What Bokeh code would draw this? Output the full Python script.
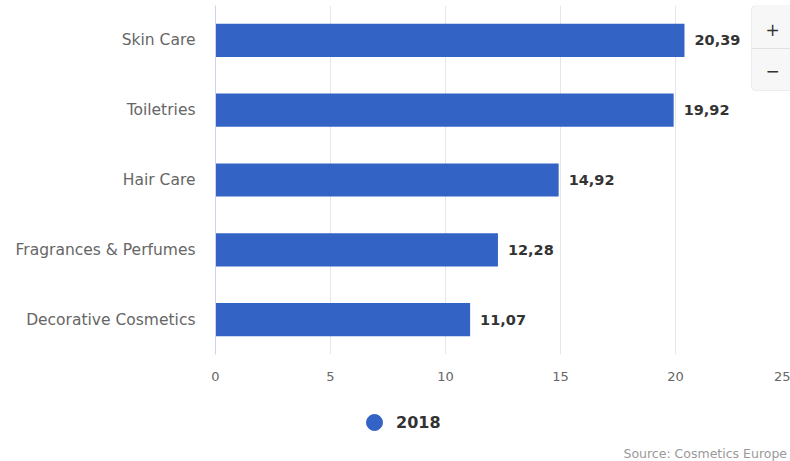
from bokeh.plotting import figure
from bokeh.layouts import column
from bokeh.models import (ColumnDataSource, FactorRange, LabelSet, Label, Legend, LegendItem,
                          FixedTicker, BoxAnnotation)
from bokeh.core.properties import value
from bokeh.embed import file_html
from bokeh.resources import INLINE

categories = ["Skin Care", "Toiletries", "Hair Care", "Fragrances & Perfumes", "Decorative Cosmetics"]
values_2018 = [20.39, 19.92, 14.92, 12.28, 11.07]
series_name = "2018"
x_ticks = [0, 5, 10, 15, 20, 25]
source_text = "Source: Cosmetics Europe"

BAR_COLOR = "#3363c5"
FONT = "DejaVu Sans"

labels = [f"{v:.2f}".replace(".", ",") for v in values_2018]
src = ColumnDataSource(dict(cat=categories, val=values_2018, lab=labels))

FRAME_LEFT = 215
FRAME_TOP = 5
FRAME_BOTTOM = 354
W = 790
H1 = 400
H2 = 61

p = figure(width=W, height=H1, output_backend="svg", toolbar_location=None,
           y_range=FactorRange(*reversed(categories), range_padding=0),
           x_range=(0, 25),
           min_border_left=FRAME_LEFT, min_border_right=0,
           min_border_top=FRAME_TOP, min_border_bottom=H1 - FRAME_BOTTOM)
p.outline_line_color = None
p.background_fill_color = "white"
p.border_fill_color = "white"

p.hbar(y="cat", right="val", left=0, height=0.475, source=src,
       fill_color=BAR_COLOR, line_color=None)

p.add_layout(LabelSet(x="val", y="cat", text="lab", source=src, x_offset=10,
                      text_baseline="middle", text_font=value(FONT), text_font_size=value("14.5px"),
                      text_font_style="bold", text_color="#333333"))

# axes
p.xaxis.ticker = FixedTicker(ticks=x_ticks)
p.xaxis.axis_line_color = None
p.xaxis.major_tick_line_color = None
p.xaxis.minor_tick_line_color = None
p.xaxis.major_tick_out = 0
p.xaxis.major_label_text_font = FONT
p.xaxis.major_label_text_font_size = "13px"
p.xaxis.major_label_text_color = "#666666"
p.xaxis.major_label_standoff = 17

p.yaxis.axis_line_color = "#ccd6eb"
p.yaxis.major_tick_line_color = None
p.yaxis.minor_tick_line_color = None
p.yaxis.major_tick_out = 0
p.yaxis.major_label_text_font = FONT
p.yaxis.major_label_text_font_size = "15.5px"
p.yaxis.major_label_text_color = "#666666"
p.yaxis.major_label_standoff = 20

p.ygrid.grid_line_color = None
p.xgrid.grid_line_color = "#e6e6e6"
p.xgrid.ticker = FixedTicker(ticks=[t for t in x_ticks if 0 < t < 25])

# zoom buttons
p.add_layout(BoxAnnotation(left=751 - FRAME_LEFT, right=800 - FRAME_LEFT,
                           top=FRAME_BOTTOM - 5, bottom=FRAME_BOTTOM - 90,
                           left_units="screen", right_units="screen",
                           top_units="screen", bottom_units="screen",
                           fill_color="#f7f7f7", fill_alpha=1, line_color="#cccccc",
                           line_width=1, border_radius=4, level="overlay"))
p.add_layout(BoxAnnotation(left=751 - FRAME_LEFT, right=800 - FRAME_LEFT,
                           top=FRAME_BOTTOM - 48, bottom=FRAME_BOTTOM - 48,
                           left_units="screen", right_units="screen",
                           top_units="screen", bottom_units="screen",
                           fill_alpha=0, line_color="#cccccc", line_width=1, level="overlay"))
for txt, yy in (("+", 29), ("\u2212", 70)):
    p.add_layout(Label(x=772 - FRAME_LEFT, y=FRAME_BOTTOM - yy, x_units="screen", y_units="screen",
                       text=txt, text_font=FONT, text_font_size="17px", text_color="#333333",
                       text_align="center", text_baseline="middle", level="overlay"))

# footer figure: legend and source note (its frame is aligned with the main frame)
f = figure(width=W, height=H2, output_backend="svg", toolbar_location=None,
           x_range=(0, 1), y_range=(0, 1),
           min_border_left=FRAME_LEFT, min_border_right=0, min_border_top=0, min_border_bottom=0,
           x_axis_type=None, y_axis_type=None)
f.outline_line_color = None
f.grid.grid_line_color = None
f.background_fill_color = "white"
f.border_fill_color = "white"

legend_marker = f.scatter(x=[float("nan")], y=[float("nan")], marker="circle", size=16,
                          fill_color=BAR_COLOR, line_color=BAR_COLOR)
legend = Legend(items=[LegendItem(label=series_name, renderers=[legend_marker])],
                location=(374 - 20 - FRAME_LEFT, H2 - (422 - H1 + 20)),
                glyph_width=40, glyph_height=40, label_standoff=2,
                padding=0, margin=0, spacing=0,
                border_line_color=None, background_fill_alpha=0,
                label_text_font=FONT, label_text_font_size="16px",
                label_text_font_style="bold", label_text_color="#333333")
f.add_layout(legend, "center")

f.add_layout(Label(x=623 - FRAME_LEFT, y=H2 - (453 - H1), x_units="screen", y_units="screen",
                   text=source_text, text_font=FONT, text_font_size="12.5px",
                   text_color="#999999", text_baseline="middle"))

layout = column(p, f, spacing=0)
open("out.html", "w").write(file_html(layout, INLINE))
